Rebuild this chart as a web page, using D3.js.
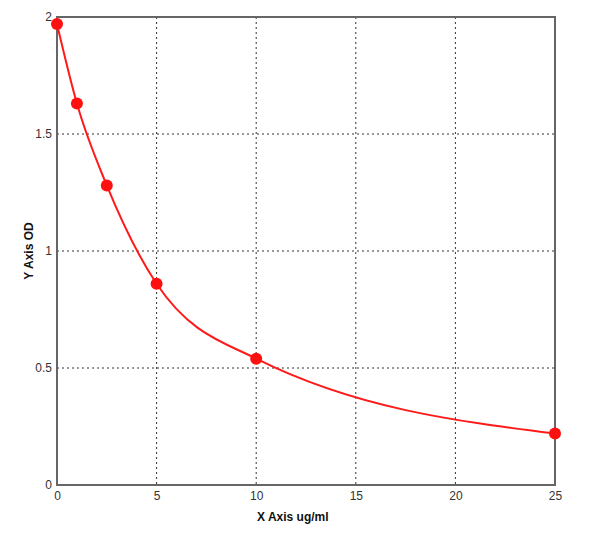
<!DOCTYPE html>
<style>
body { margin: 0; background-color: #fff; }
.axis text { font: 12px "Liberation Sans", Arial, sans-serif; fill: #333; }
.grid line { stroke: #333; stroke-width: 1px; stroke-dasharray: 2,3; }
</style>
<svg width="600" height="542"></svg>
<script src="https://d3js.org/d3.v7.min.js"></script>
<script>
var concentrations = [0, 1, 2.5, 5, 10, 25];
var odValues = [1.97, 1.63, 1.28, 0.86, 0.54, 0.22];
var xTicks = [0, 5, 10, 15, 20, 25];
var yTicks = [0, 0.5, 1, 1.5, 2];

var svg = d3.select("svg"),
    margin = {top: 17, right: 45, bottom: 57, left: 57},
    width = +svg.attr("width") - margin.left - margin.right,
    height = +svg.attr("height") - margin.top - margin.bottom,
    g = svg.append("g").attr("transform", "translate(" + margin.left + "," + margin.top + ")");

var x = d3.scaleLinear().domain([0, 25]).range([0, width]);
var y = d3.scaleLinear().domain([0, 2]).range([height, 0]);

var data = concentrations.map(function(c, i) { return {x: c, y: odValues[i]}; });

// grid
g.append("g").attr("class", "grid")
  .selectAll("line")
  .data(xTicks.slice(1, -1))
  .enter().append("line")
    .attr("x1", function(d) { return x(d); })
    .attr("x2", function(d) { return x(d); })
    .attr("y1", 0)
    .attr("y2", height);

g.append("g").attr("class", "grid")
  .selectAll("line")
  .data(yTicks.slice(1, -1))
  .enter().append("line")
    .attr("y1", function(d) { return y(d); })
    .attr("y2", function(d) { return y(d); })
    .attr("x1", 0)
    .attr("x2", width);

// frame
g.append("rect")
  .attr("width", width)
  .attr("height", height)
  .attr("fill", "none")
  .attr("stroke", "#666")
  .attr("stroke-width", 2);

g.append("g")
  .attr("class", "axis")
  .attr("transform", "translate(0," + height + ")")
  .call(d3.axisBottom(x).tickValues(xTicks).tickSize(0).tickPadding(6))
  .call(function(s) { s.select(".domain").remove(); });

g.append("g")
  .attr("class", "axis")
  .call(d3.axisLeft(y).tickValues(yTicks).tickSize(0).tickPadding(5).tickFormat(d3.format("")))
  .call(function(s) { s.select(".domain").remove(); });

// fitted curve
var line = d3.line()
  .x(function(d) { return x(d.x); })
  .y(function(d) { return y(d.y); })
  .curve(d3.curveMonotoneX);

g.append("path")
  .datum(data)
  .attr("fill", "none")
  .attr("stroke", "#ff1a1a")
  .attr("stroke-width", 2)
  .attr("d", line);

g.selectAll(".dot")
  .data(data)
  .enter().append("circle")
    .attr("cx", function(d) { return x(d.x); })
    .attr("cy", function(d) { return y(d.y); })
    .attr("r", 6)
    .attr("fill", "#ff1010");

svg.append("text")
  .attr("x", 257)
  .attr("y", 521)
  .attr("font-family", "Liberation Sans, Arial, sans-serif")
  .attr("font-size", 12)
  .attr("font-weight", "bold")
  .attr("fill", "#111")
  .text("X Axis ug/ml");

svg.append("text")
  .attr("transform", "translate(33," + (margin.top + height / 2) + ") rotate(-90)")
  .attr("text-anchor", "middle")
  .attr("font-family", "Liberation Sans, Arial, sans-serif")
  .attr("font-size", 12)
  .attr("font-weight", "bold")
  .attr("fill", "#111")
  .text("Y Axis OD");
</script>
